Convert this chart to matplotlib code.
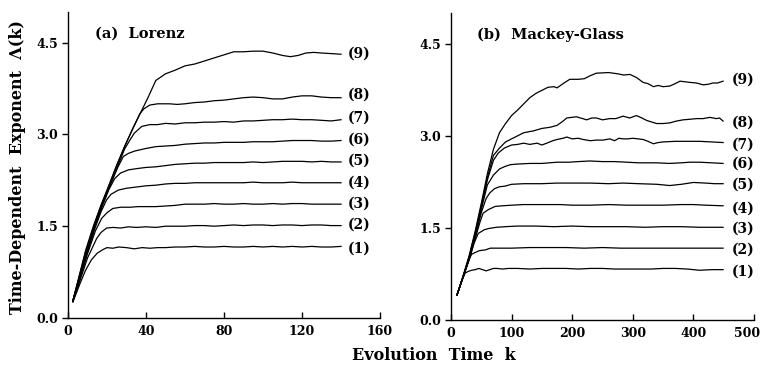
import matplotlib
matplotlib.use("Agg")
import matplotlib.pyplot as plt
from matplotlib.transforms import ScaledTranslation

# ---- (a) Lorenz : evolution time k and exponent for embedding (1)..(9)
lz1_k = [2.5, 6, 9, 12, 15, 18, 20, 23, 26, 30, 34, 38, 42, 46, 50, 55, 60, 65, 70, 75, 80, 85, 90, 95, 100, 105, 110, 115, 120, 125, 130, 135, 140]
lz1_y = [0.26, 0.55, 0.78, 0.95, 1.06, 1.12, 1.15, 1.14, 1.16, 1.15, 1.13, 1.15, 1.14, 1.15, 1.15, 1.16, 1.16, 1.17, 1.16, 1.16, 1.17, 1.16, 1.16, 1.17, 1.16, 1.17, 1.16, 1.17, 1.16, 1.17, 1.16, 1.16, 1.17]
lz2_k = [2.5, 6, 10, 14.7, 17, 19.8, 23, 27, 31, 35, 40, 45, 50, 55, 60, 65, 70, 75, 80, 85, 90, 95, 100, 105, 110, 115, 120, 125, 130, 135, 140]
lz2_y = [0.27, 0.60, 0.98, 1.30, 1.40, 1.47, 1.48, 1.47, 1.49, 1.48, 1.49, 1.48, 1.50, 1.50, 1.50, 1.51, 1.51, 1.50, 1.51, 1.52, 1.51, 1.52, 1.52, 1.51, 1.52, 1.52, 1.51, 1.52, 1.52, 1.51, 1.51]
lz3_k = [2.5, 6, 10, 14, 17.3, 20, 23, 27, 32, 36, 40, 45, 50, 55, 60, 65, 70, 75, 80, 85, 90, 95, 100, 105, 110, 115, 120, 125, 130, 135, 140]
lz3_y = [0.27, 0.63, 1.05, 1.42, 1.63, 1.72, 1.79, 1.81, 1.81, 1.82, 1.82, 1.82, 1.83, 1.84, 1.86, 1.86, 1.86, 1.87, 1.86, 1.86, 1.87, 1.86, 1.86, 1.87, 1.86, 1.87, 1.87, 1.86, 1.86, 1.86, 1.86]
lz4_k = [2.5, 6, 10, 14, 17, 19.8, 22, 25.8, 30, 35, 40, 45, 50, 55, 60, 65, 70, 75, 80, 85, 90, 95, 100, 105, 110, 115, 120, 125, 130, 135, 140]
lz4_y = [0.28, 0.65, 1.08, 1.48, 1.74, 1.93, 2.02, 2.09, 2.12, 2.14, 2.16, 2.17, 2.19, 2.20, 2.20, 2.21, 2.21, 2.21, 2.21, 2.21, 2.21, 2.22, 2.21, 2.21, 2.21, 2.22, 2.21, 2.21, 2.21, 2.21, 2.21]
lz5_k = [2.5, 6, 10, 14, 18, 21, 24, 27, 31, 35, 40, 45, 50, 55, 60, 65, 70, 75, 80, 85, 90, 95, 100, 105, 110, 115, 120, 125, 130, 135, 140]
lz5_y = [0.28, 0.67, 1.10, 1.52, 1.86, 2.10, 2.28, 2.37, 2.42, 2.44, 2.46, 2.47, 2.49, 2.51, 2.52, 2.53, 2.53, 2.54, 2.54, 2.54, 2.54, 2.55, 2.54, 2.55, 2.56, 2.56, 2.56, 2.55, 2.56, 2.55, 2.55]
lz6_k = [2.5, 6, 10, 14, 18, 22, 25.5, 28.4, 31, 34.4, 40, 45, 50, 55, 60, 65, 70, 75, 80, 85, 90, 95, 100, 105, 110, 115, 120, 125, 130, 135, 140]
lz6_y = [0.28, 0.68, 1.11, 1.54, 1.88, 2.20, 2.46, 2.64, 2.69, 2.73, 2.77, 2.80, 2.81, 2.82, 2.84, 2.85, 2.86, 2.86, 2.87, 2.87, 2.87, 2.88, 2.88, 2.88, 2.89, 2.90, 2.90, 2.90, 2.89, 2.89, 2.90]
lz7_k = [2.5, 6, 10, 14, 18, 22, 26, 29, 31.8, 34, 37.8, 42, 46, 50, 55, 60, 65, 70, 75, 80, 85, 90, 95, 100, 105, 110, 115, 120, 125, 130, 135, 140]
lz7_y = [0.28, 0.69, 1.12, 1.56, 1.90, 2.20, 2.52, 2.76, 2.91, 3.02, 3.13, 3.16, 3.16, 3.18, 3.17, 3.19, 3.19, 3.20, 3.20, 3.21, 3.20, 3.22, 3.22, 3.23, 3.24, 3.24, 3.25, 3.24, 3.24, 3.23, 3.22, 3.24]
lz8_k = [2.5, 6, 9, 13, 17, 21, 25, 29, 33, 36.9, 39, 42, 46, 52, 56, 60, 65, 70, 75, 80, 85, 90, 95, 100, 105, 110, 115, 120, 125, 130, 135, 140]
lz8_y = [0.28, 0.71, 1.08, 1.48, 1.84, 2.16, 2.49, 2.80, 3.08, 3.34, 3.42, 3.48, 3.50, 3.50, 3.49, 3.50, 3.52, 3.53, 3.55, 3.56, 3.58, 3.60, 3.61, 3.60, 3.58, 3.58, 3.61, 3.63, 3.63, 3.61, 3.60, 3.60]
lz9_k = [2.5, 6, 9, 13, 17, 21, 25, 29, 33, 37, 41, 45, 50, 55, 60, 65, 70, 75, 80, 85, 90, 95, 100, 105, 110, 114, 118, 122, 126, 130, 135, 140]
lz9_y = [0.28, 0.72, 1.10, 1.50, 1.85, 2.17, 2.50, 2.80, 3.08, 3.34, 3.60, 3.88, 3.99, 4.05, 4.12, 4.15, 4.20, 4.25, 4.30, 4.35, 4.35, 4.36, 4.36, 4.33, 4.29, 4.27, 4.29, 4.33, 4.34, 4.33, 4.32, 4.31]

# ---- (b) Mackey-Glass
mg1_k = [10, 17, 23, 28, 34, 40, 46, 52, 58, 64, 70, 76, 85, 95, 110, 130, 150, 170, 190, 210, 230, 250, 270, 290, 310, 330, 350, 370, 390, 410, 430, 449]
mg1_y = [0.41, 0.62, 0.76, 0.79, 0.81, 0.82, 0.84, 0.82, 0.80, 0.82, 0.84, 0.84, 0.83, 0.84, 0.84, 0.83, 0.84, 0.84, 0.84, 0.83, 0.84, 0.84, 0.83, 0.83, 0.83, 0.83, 0.84, 0.84, 0.83, 0.81, 0.82, 0.82]
mg2_k = [10, 20, 28, 34, 40, 47, 56, 65, 80, 100, 130, 160, 190, 220, 250, 280, 310, 340, 370, 400, 430, 449]
mg2_y = [0.41, 0.70, 0.95, 1.07, 1.10, 1.13, 1.14, 1.17, 1.17, 1.17, 1.18, 1.18, 1.18, 1.17, 1.18, 1.17, 1.17, 1.17, 1.17, 1.17, 1.17, 1.17]
mg3_k = [10, 20, 30, 38, 45, 55, 62, 75, 90, 110, 140, 170, 200, 230, 260, 290, 320, 350, 380, 410, 449]
mg3_y = [0.41, 0.70, 0.98, 1.25, 1.41, 1.47, 1.49, 1.51, 1.52, 1.53, 1.53, 1.52, 1.53, 1.52, 1.52, 1.52, 1.51, 1.52, 1.52, 1.51, 1.51]
mg4_k = [10, 20, 30, 40, 48, 53, 62, 73, 85, 100, 120, 150, 180, 200, 230, 260, 290, 320, 350, 380, 400, 420, 449]
mg4_y = [0.41, 0.70, 0.99, 1.33, 1.60, 1.74, 1.80, 1.85, 1.86, 1.87, 1.88, 1.88, 1.88, 1.87, 1.87, 1.88, 1.87, 1.87, 1.87, 1.88, 1.88, 1.87, 1.86]
mg5_k = [10, 20, 30, 40, 50, 58, 64, 72, 80, 89, 100, 120, 150, 175, 200, 230, 260, 284, 310, 340, 361, 380, 400, 420, 435, 449]
mg5_y = [0.41, 0.70, 1.00, 1.36, 1.75, 1.98, 2.07, 2.14, 2.17, 2.18, 2.21, 2.22, 2.22, 2.23, 2.23, 2.23, 2.22, 2.23, 2.22, 2.21, 2.19, 2.21, 2.24, 2.23, 2.22, 2.22]
mg6_k = [10, 20, 30, 40, 50, 60, 70, 80, 89, 98, 110, 130, 150, 175, 195, 210, 229, 250, 270, 290, 310, 339, 360, 380, 394, 410, 430, 449]
mg6_y = [0.41, 0.70, 1.01, 1.38, 1.80, 2.20, 2.36, 2.46, 2.50, 2.53, 2.54, 2.55, 2.55, 2.57, 2.57, 2.58, 2.59, 2.58, 2.58, 2.57, 2.56, 2.56, 2.55, 2.56, 2.57, 2.57, 2.56, 2.55]
mg7_k = [10, 20, 30, 40, 50, 60, 70, 78, 88, 100, 110, 120, 130, 142, 150, 158, 168, 175, 185, 191, 200, 210, 218, 230, 240, 251, 262, 270, 277, 284, 292, 300, 317, 325, 334, 342, 350, 370, 390, 410, 430, 449]
mg7_y = [0.41, 0.71, 1.02, 1.40, 1.83, 2.28, 2.60, 2.72, 2.80, 2.85, 2.86, 2.88, 2.86, 2.88, 2.85, 2.88, 2.92, 2.94, 2.96, 2.98, 2.95, 2.96, 2.94, 2.92, 2.93, 2.93, 2.95, 2.92, 2.96, 2.95, 2.95, 2.96, 2.94, 2.91, 2.87, 2.89, 2.90, 2.91, 2.91, 2.91, 2.90, 2.89]
mg8_k = [10, 20, 30, 40, 50, 60, 70, 80, 90, 100, 110, 120, 136, 150, 164, 175, 185, 191, 207, 224, 232, 240, 250, 262, 272, 284, 295, 306, 315, 323, 339, 350, 361, 372, 383, 395, 405, 416, 427, 438, 443, 449]
mg8_y = [0.41, 0.71, 1.03, 1.42, 1.86, 2.32, 2.68, 2.80, 2.90, 2.95, 3.00, 3.05, 3.08, 3.12, 3.14, 3.17, 3.24, 3.29, 3.31, 3.26, 3.29, 3.29, 3.26, 3.28, 3.28, 3.32, 3.29, 3.33, 3.29, 3.25, 3.20, 3.20, 3.21, 3.24, 3.26, 3.27, 3.28, 3.28, 3.30, 3.28, 3.29, 3.24]
mg9_k = [10, 20, 30, 40, 50, 60, 70, 80, 90, 100, 110, 120, 130, 140, 150, 160, 170, 175, 185, 196, 210, 220, 230, 240, 260, 275, 285, 295, 306, 317, 325, 334, 342, 350, 361, 370, 378, 394, 405, 416, 425, 432, 440, 449]
mg9_y = [0.41, 0.72, 1.05, 1.45, 1.90, 2.38, 2.78, 3.05, 3.20, 3.33, 3.42, 3.52, 3.62, 3.69, 3.74, 3.79, 3.80, 3.78, 3.85, 3.92, 3.92, 3.93, 3.98, 4.02, 4.03, 4.01, 3.99, 4.00, 3.95, 3.87, 3.85, 3.80, 3.82, 3.80, 3.81, 3.85, 3.89, 3.87, 3.86, 3.83, 3.84, 3.86, 3.86, 3.89]

curve_names = ["(1)", "(2)", "(3)", "(4)", "(5)", "(6)", "(7)", "(8)", "(9)"]
lz_label_y = [1.14, 1.52, 1.86, 2.21, 2.57, 2.91, 3.27, 3.65, 4.32]
mg_label_y = [0.79, 1.14, 1.48, 1.82, 2.20, 2.55, 2.86, 3.21, 3.92]
yticks = [0.0, 1.5, 3.0, 4.5]
lz_xticks = [0, 40, 80, 120, 160]
mg_xticks = [0, 100, 200, 300, 400, 500]

lorenz = [(lz1_k, lz1_y), (lz2_k, lz2_y), (lz3_k, lz3_y), (lz4_k, lz4_y), (lz5_k, lz5_y),
          (lz6_k, lz6_y), (lz7_k, lz7_y), (lz8_k, lz8_y), (lz9_k, lz9_y)]
mackey = [(mg1_k, mg1_y), (mg2_k, mg2_y), (mg3_k, mg3_y), (mg4_k, mg4_y), (mg5_k, mg5_y),
          (mg6_k, mg6_y), (mg7_k, mg7_y), (mg8_k, mg8_y), (mg9_k, mg9_y)]

SERIF = "DejaVu Serif"

fig = plt.figure(figsize=(7.66, 3.67), dpi=100)
ax1 = fig.add_axes([68/766, 1-318/367, 312/766, 306/367])
ax2 = fig.add_axes([451/766, 1-320/367, 303/766, 307/367])


def style(ax, xticks, xmax):
    ax.set_xlim(0, xmax)
    ax.set_ylim(0, 5.0)
    for s in ("top", "right"):
        ax.spines[s].set_visible(False)
    for s in ("left", "bottom"):
        ax.spines[s].set_linewidth(1.0)
    ax.set_xticks(xticks)
    ax.set_yticks(yticks)
    ax.set_yticklabels(["%.1f" % v for v in yticks])
    ax.tick_params(axis="x", direction="in", length=4, width=1, pad=5)
    ax.tick_params(axis="y", direction="out", length=4, width=1, pad=3)
    for lab in ax.get_xticklabels() + ax.get_yticklabels():
        lab.set_fontfamily(SERIF)
        lab.set_fontweight("bold")
        lab.set_fontsize(9)


for ax, data, ticks, xmax, lab_x, lab_y, title, tx in [
        (ax1, lorenz, lz_xticks, 160, 143.6, lz_label_y, "(a)  Lorenz", 13.8),
        (ax2, mackey, mg_xticks, 500, 463, mg_label_y, "(b)  Mackey-Glass", 43.4)]:
    for (k, y) in data:
        ax.plot(k, y, color="black", lw=0.9)
    for name, yy in zip(curve_names, lab_y):
        ax.text(lab_x, yy, name, ha="left", va="center", fontsize=10,
                fontweight="bold", family=SERIF)
    ax.text(tx, 4.65, title, ha="left", va="center", fontsize=10.5,
            fontweight="bold", family=SERIF)
    style(ax, ticks, xmax)

# last tick label on the right panel sits a bit left of its tick
last = ax2.get_xticklabels()[-1]
last.set_transform(last.get_transform() + ScaledTranslation(-5/72, 0, fig.dpi_scale_trans))

fig.text(18/766, 1-167/367, "Time-Dependent  Exponent  \u039b(k)", rotation=90,
         ha="center", va="center", fontsize=11.5, fontweight="bold", family=SERIF)
fig.text(434/766, 1-355/367, "Evolution  Time  k", ha="center", va="center",
         fontsize=11.5, fontweight="bold", family=SERIF)

fig.savefig("out.png", dpi=100)
